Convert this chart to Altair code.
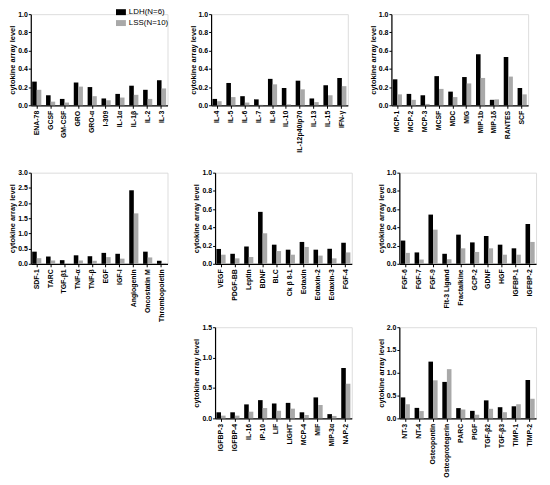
import altair as alt
import pandas as pd

SERIES = ["LDH(N=6)", "LSS(N=10)"]

cat1 = ["ENA-78", "GCSF", "GM-CSF", "GRO", "GRO-α", "I-309", "IL-1α", "IL-1β", "IL-2", "IL-3"]
ldh1 = [0.26, 0.11, 0.07, 0.25, 0.20, 0.075, 0.125, 0.215, 0.17, 0.275]
lss1 = [0.17, 0.04, 0.03, 0.205, 0.10, 0.055, 0.085, 0.115, 0.07, 0.185]

cat2 = ["IL-4", "IL-5", "IL-6", "IL-7", "IL-8", "IL-10", "IL-12p40/p70", "IL-13", "IL-15", "IFN-γ"]
ldh2 = [0.07, 0.245, 0.10, 0.065, 0.29, 0.19, 0.27, 0.075, 0.22, 0.30]
lss2 = [0.045, 0.09, 0.03, 0.005, 0.23, 0.01, 0.175, 0.035, 0.11, 0.21]

cat3 = ["MCP-1", "MCP-2", "MCP-3", "MCSF", "MDC", "MIG", "MIP-1b", "MIP-1δ", "RANTES", "SCF"]
ldh3 = [0.285, 0.125, 0.11, 0.32, 0.15, 0.31, 0.56, 0.06, 0.53, 0.19]
lss3 = [0.12, 0.06, 0.015, 0.18, 0.09, 0.24, 0.30, 0.065, 0.315, 0.12]

cat4 = ["SDF-1", "TARC", "TGF-β1", "TNF-α", "TNF-β", "EGF", "IGF-I", "Angiogenin", "Oncostatin M", "Thrombopoietin"]
ldh4 = [0.40, 0.24, 0.12, 0.28, 0.25, 0.36, 0.33, 2.42, 0.40, 0.10]
lss4 = [0.185, 0.11, 0.01, 0.11, 0.10, 0.22, 0.17, 1.66, 0.21, 0.03]

cat5 = ["VEGF", "PDGF-BB", "Leptin", "BDNF", "BLC", "Ck β 8-1", "Eotaxin", "Eotaxin-2", "Eotaxin-3", "FGF-4"]
ldh5 = [0.163, 0.11, 0.19, 0.57, 0.21, 0.155, 0.24, 0.155, 0.165, 0.23]
lss5 = [0.10, 0.06, 0.075, 0.335, 0.14, 0.10, 0.185, 0.09, 0.06, 0.125]

cat6 = ["FGF-6", "FGF-7", "FGF-9", "Flt-3 Ligand", "Fractalkine", "GCP-2", "GDNF", "HGF", "IGFBP-1", "IGFBP-2"]
ldh6 = [0.255, 0.125, 0.54, 0.11, 0.32, 0.235, 0.305, 0.21, 0.17, 0.437]
lss6 = [0.12, 0.047, 0.375, 0.05, 0.17, 0.13, 0.17, 0.10, 0.10, 0.24]

cat7 = ["IGFBP-3", "IGFBP-4", "IL-16", "IP-10", "LIF", "LIGHT", "MCP-4", "MIF", "MIP-3α", "NAP-2"]
ldh7 = [0.10, 0.10, 0.23, 0.30, 0.245, 0.255, 0.10, 0.345, 0.07, 0.83]
lss7 = [0.045, 0.045, 0.11, 0.17, 0.125, 0.16, 0.055, 0.22, 0.04, 0.57]

cat8 = ["NT-3", "NT-4", "Osteopontin", "Osteoprotegerin", "PARC", "PIGF", "TGF-β2", "TGF-β3", "TIMP-1", "TIMP-2"]
ldh8 = [0.46, 0.23, 1.245, 0.80, 0.225, 0.165, 0.395, 0.245, 0.265, 0.84]
lss8 = [0.31, 0.16, 0.835, 1.08, 0.195, 0.08, 0.21, 0.135, 0.31, 0.43]

W, H = 138, 92
FONT = "Liberation Sans"

legend = alt.Legend(
    title=None, orient="none", legendX=86, legendY=-7, padding=0,
    labelFont=FONT, labelFontSize=8, labelColor="black", labelOffset=3,
    symbolType="M-1,-0.6H1V0.6H-1Z", symbolSize=100, symbolStrokeWidth=0,
    symbolOpacity=1, rowPadding=2,
)


def panel(cats, ldh, lss, ymax, step):
    rows = []
    for c, a, b in zip(cats, ldh, lss):
        rows.append({"cat": c, "group": SERIES[0], "value": a})
        rows.append({"cat": c, "group": SERIES[1], "value": b})
    df = pd.DataFrame(rows)
    n = int(round(ymax / step))
    vals = [round(i * step, 2) for i in range(n + 1)]
    return alt.Chart(df).mark_bar().encode(
        x=alt.X("cat:N", sort=cats, title=None,
                scale=alt.Scale(paddingInner=0.34, paddingOuter=0.1),
                axis=alt.Axis(labelAngle=270, labelFont=FONT, labelFontSize=7,
                              labelFontWeight="bold", labelColor="black",
                              labelPadding=2, tickSize=3, tickColor="black",
                              domainColor="black", domainWidth=1.2,
                              labelOverlap=False, labelLimit=0)),
        xOffset=alt.XOffset("group:N", sort=SERIES, scale=alt.Scale(paddingInner=0, paddingOuter=0)),
        y=alt.Y("value:Q", title="cytokine array level",
                scale=alt.Scale(domain=[0, ymax], nice=False, zero=True),
                axis=alt.Axis(values=vals, format=".1f", grid=False,
                              labelFont=FONT, labelFontSize=7, labelFontWeight="bold",
                              labelColor="black", labelPadding=1, tickSize=2.5,
                              tickColor="black", domainColor="black", domainWidth=1.2,
                              titleFont=FONT, titleFontSize=7.5, titleFontWeight="bold",
                              titleColor="black", titlePadding=1)),
        color=alt.Color("group:N", sort=SERIES,
                        scale=alt.Scale(domain=SERIES, range=["#000000", "#a9a9a9"]),
                        legend=legend),
    ).properties(width=W, height=H)


p1 = panel(cat1, ldh1, lss1, 1.0, 0.2)
p2 = panel(cat2, ldh2, lss2, 1.0, 0.2)
p3 = panel(cat3, ldh3, lss3, 1.0, 0.2)
p4 = panel(cat4, ldh4, lss4, 3.0, 0.5)
p5 = panel(cat5, ldh5, lss5, 1.0, 0.2)
p6 = panel(cat6, ldh6, lss6, 1.0, 0.2)
p7 = panel(cat7, ldh7, lss7, 1.5, 0.5)
p8 = panel(cat8, ldh8, lss8, 2.0, 0.5)

blank = alt.Chart(pd.DataFrame({"a": [0]})).mark_point(opacity=0, size=1).encode(
    x=alt.value(5), y=alt.value(5)
).properties(width=W, height=H, view=alt.ViewBackground(stroke="transparent", fill="transparent"))

row1 = alt.hconcat(p1, p2, p3, spacing=44, bounds="flush")
row2 = alt.hconcat(p4, p5, p6, spacing=48, bounds="flush")
row3 = alt.hconcat(blank, p7, p8, spacing=48, bounds="flush")

top = alt.vconcat(row1, row2, spacing=160, bounds="flush")
chart = alt.vconcat(top, row3, spacing=316, bounds="flush").properties(
    padding={"left": 0, "top": -3, "right": 5, "bottom": 0}
).configure_view(stroke="transparent").configure(background="white")

chart.save("out.html", embed_options={"renderer": "svg", "actions": False})
